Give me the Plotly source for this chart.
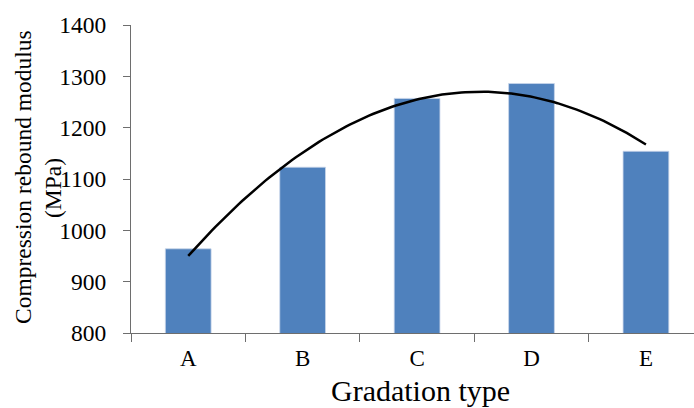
import numpy as np
import plotly.graph_objects as go

categories = ["A", "B", "C", "D", "E"]
modulus = [964, 1123, 1257, 1286, 1154]
y_ticks = [800, 900, 1000, 1100, 1200, 1300, 1400]

pos = np.arange(len(categories))
coef = np.polyfit(pos, modulus, 2)
xs = np.linspace(0, len(categories) - 1, 120)
ys = np.polyval(coef, xs)

FONT = "Liberation Serif, Times New Roman, serif"
AXC = "#6E6E6E"

fig = go.Figure()
fig.add_trace(go.Bar(x=pos, y=modulus, width=0.4,
                     marker=dict(color="#4F81BD", line=dict(color="#C9D6EA", width=0.8)),
                     showlegend=False))
fig.add_trace(go.Scatter(x=xs, y=ys, mode="lines",
                         line=dict(color="black", width=2.5), showlegend=False))

fig.update_layout(
    width=694, height=408,
    margin=dict(l=131, r=0, t=25, b=75),
    paper_bgcolor="white", plot_bgcolor="white",
    font=dict(family=FONT, color="black"),
    bargap=0.6,
    xaxis=dict(range=[-0.5, 4.42], tickvals=list(pos), ticktext=categories,
               ticks="", showgrid=False, zeroline=False,
               showline=True, linecolor=AXC, linewidth=1.3,
               tickfont=dict(size=23, family=FONT), ticklabelstandoff=4,
               minor=dict(tickvals=[p - 0.5 for p in range(len(categories) + 1)],
                          ticks="outside", ticklen=8, tickcolor=AXC, tickwidth=1.3)),
    yaxis=dict(range=[800, 1400], tickvals=y_ticks, ticks="outside", ticklen=7,
               tickcolor=AXC, tickwidth=1.3, showgrid=False, zeroline=False,
               showline=True, linecolor=AXC, linewidth=1.3,
               tickfont=dict(size=23.5, family=FONT), ticklabelstandoff=12),
)

fig.add_annotation(text="Compression rebound modulus", textangle=-90,
                   xref="paper", yref="paper", x=(23 - 131) / 563, y=(333 - 177) / 308,
                   xanchor="center", yanchor="middle", showarrow=False,
                   font=dict(size=23.5, family=FONT, color="black"))
fig.add_annotation(text="(MPa)", textangle=-90,
                   xref="paper", yref="paper", x=(53 - 131) / 563, y=(333 - 188) / 308,
                   xanchor="center", yanchor="middle", showarrow=False,
                   font=dict(size=23.5, family=FONT, color="black"))
fig.add_annotation(text="Gradation type",
                   xref="paper", yref="paper", x=(420 - 131) / 563, y=(333 - 390) / 308,
                   xanchor="center", yanchor="middle", showarrow=False,
                   font=dict(size=30, family=FONT, color="black"))

fig.write_html("out.html", config={"displayModeBar": False},
               post_script="document.body.style.margin='0';document.body.style.overflow='hidden';")
